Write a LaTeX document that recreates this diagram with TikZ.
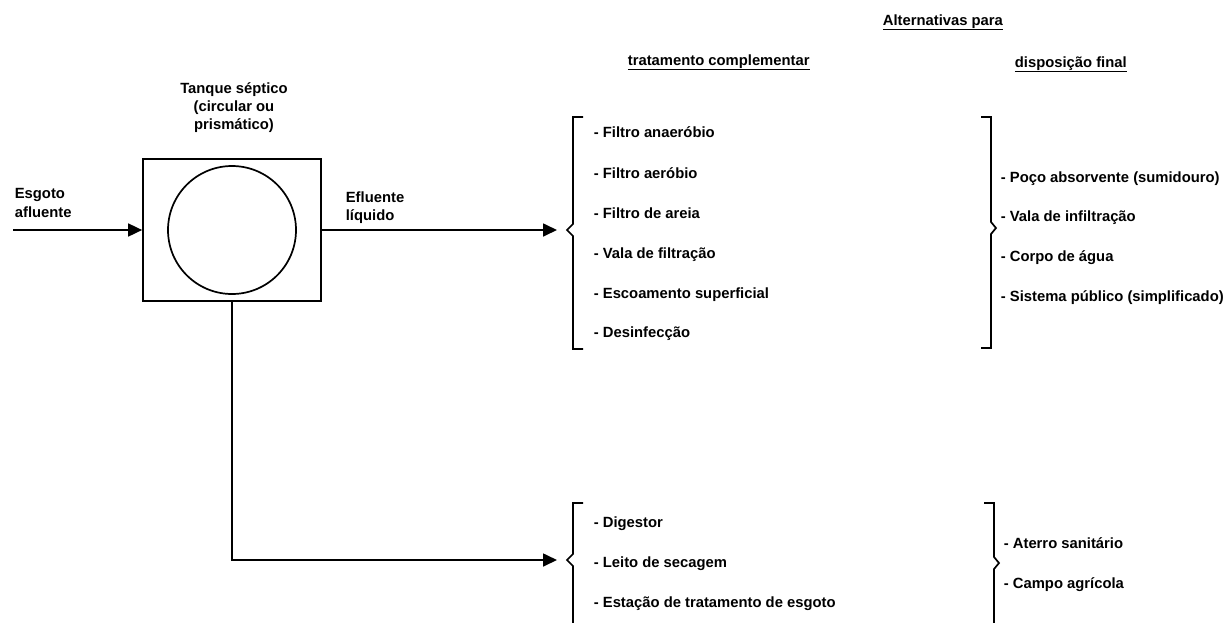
\documentclass[tikz,border=0pt]{standalone}
\usepackage{fontspec}
\setmainfont{Liberation Sans}
\usetikzlibrary{arrows.meta}
\begin{document}
\begin{tikzpicture}[x=1pt,y=-1pt, line width=1.7pt,
  lbl/.style={font=\fontsize{14.8}{18}\selectfont\bfseries, inner sep=0pt, anchor=base west},
  ctr/.style={font=\fontsize{14.8}{18}\selectfont\bfseries, inner sep=0pt, align=center, anchor=north},
  conn/.style={-{Triangle[length=14pt,width=13pt]}},
  bracepath/.style={line width=1.7pt}]
\useasboundingbox (0,0) rectangle (1225,622);

% tank
\node[draw, minimum width=178pt, minimum height=142pt, inner sep=0pt] (tank) at (232,230) {};
\node[draw, circle, minimum size=128pt, inner sep=0pt] (circ) at (232,230) {};
\node[ctr] (tanklbl) at (234,82) {Tanque séptico\\(circular ou\\prismático)};

% input
\coordinate (inp) at (13,230);
\draw[conn] (inp) -- (tank.west);
\node[lbl] (esg) at (14,198) {Esgoto};
\node[lbl] (afl) at (14,217) {afluente};

% output liquid
\coordinate (t1) at (557,230);
\draw[conn] (tank.east) -- (t1);
\node[lbl] (efl) at (345,202) {Efluente};
\node[lbl] (liq) at (345,220) {líquido};

% sludge
\coordinate (t2) at (557,560);
\draw[conn] (tank.south) |- (t2);

% headers
\node[lbl] (alt) at (882,25) {\underline{Alternativas para}};
\node[lbl] (trat) at (627,65) {\underline{tratamento complementar}};
\node[lbl] (disp) at (1014,67) {\underline{disposição final}};

% braces
\draw[bracepath] (583,117) -- (573,117) -- (573,224) -- (567,230) -- (573,236) -- (573,349) -- (583,349);
\draw[bracepath] (981,117) -- (991,117) -- (991,222) -- (996,228) -- (991,234) -- (991,348) -- (981,348);
\draw[bracepath] (583,503) -- (573,503) -- (573,554) -- (567,560) -- (573,566) -- (573,630);
\draw[bracepath] (984,503) -- (994,503) -- (994,557) -- (999,563) -- (994,569) -- (994,630);

% treatment list
\node[lbl] (f1) at (593,137) {- Filtro anaeróbio};
\node[lbl] (f2) at (593,178) {- Filtro aeróbio};
\node[lbl] (f3) at (593,218) {- Filtro de areia};
\node[lbl] (f4) at (593,258) {- Vala de filtração};
\node[lbl] (f5) at (593,298) {- Escoamento superficial};
\node[lbl] (f6) at (593,337) {- Desinfecção};

% disposal list
\node[lbl] (d1) at (1000,182) {- Poço absorvente (sumidouro)};
\node[lbl] (d2) at (1000,221) {- Vala de infiltração};
\node[lbl] (d3) at (1000,261) {- Corpo de água};
\node[lbl] (d4) at (1000,301) {- Sistema público (simplificado)};

% sludge treatment list
\node[lbl] (s1) at (593,527) {- Digestor};
\node[lbl] (s2) at (593,567) {- Leito de secagem};
\node[lbl] (s3) at (593,607) {- Estação de tratamento de esgoto};

% sludge disposal list
\node[lbl] (a1) at (1003,548) {- Aterro sanitário};
\node[lbl] (a2) at (1003,588) {- Campo agrícola};
\end{tikzpicture}
\end{document}
